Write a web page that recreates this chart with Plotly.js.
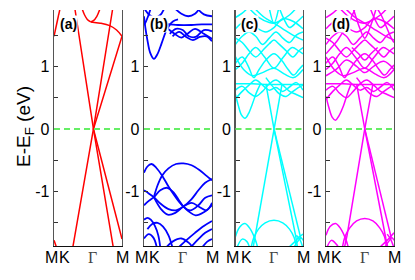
<!DOCTYPE html>
<html>
<head>
<meta charset="utf-8">
<script src="https://cdn.plot.ly/plotly-3.0.1.min.js"></script>
<style>html,body{margin:0;padding:0;background:#fff;}#chart{width:415px;height:280px;}</style>
</head>
<body>
<div id="chart"></div>
<script>
// ---------- data ----------
const panelLabels = ['(a)', '(b)', '(c)', '(d)'];
const panelColors = ['#ff0000', '#0000ff', '#00ffff', '#ff00ff'];
const kLabels = ['M', 'K', 'Γ', 'M'];
const kPos = [-0.04, 0.16, 0.57, 1.01];
const yTicks = [-1, 0, 1];
const yMinorTicks = [-1.5, -0.5, 0.5, 1.5];
const fermiLevel = 0;

// straight band segments [k, E]
const linesA = [
  [[0.31, 1.9], [0.58, 0], [0.87, -1.88]],
  [[0.86, 1.9], [0.58, 0], [0.275, -1.9]],
  [[1.0, 1.48], [0.58, 0], [1.0, -1.76]]
];
const curvesA = [
  [[0.41, 1.93], [0.45, 1.82], [0.49, 1.75], [0.54, 1.71]],
  [[0.68, 1.93], [0.63, 1.8], [0.58, 1.73], [0.54, 1.71]],
  [[0.54, 1.71], [0.68, 1.69], [0.82, 1.65], [0.92, 1.58], [1.0, 1.48]],
  [[0, 1.48], [0.04, 1.68], [0.09, 1.93]],
  [[0, -1.78], [0.02, -1.84], [0.04, -1.9]]
];

const linesB = [];
const curvesB = [
  [[0.0, 1.8], [0.02, 1.62], [0.05, 1.42], [0.09, 1.22], [0.145, 1.12], [0.2, 1.2], [0.26, 1.37], [0.32, 1.55], [0.37, 1.65], [0.43, 1.72], [0.5, 1.75]],
  [[0.33, 1.68], [0.5, 1.66], [0.7, 1.66], [0.85, 1.67], [1.0, 1.67]],
  [[0.35, 1.6], [0.45, 1.52], [0.55, 1.46], [0.65, 1.53], [0.75, 1.6], [0.88, 1.52], [1.0, 1.44]],
  [[0.38, 1.52], [0.47, 1.6], [0.57, 1.58], [0.66, 1.48], [0.76, 1.47], [0.88, 1.58], [1.0, 1.56]],
  [[0.42, 1.48], [0.52, 1.55], [0.62, 1.47], [0.72, 1.42], [0.82, 1.47], [0.92, 1.48], [1.0, 1.4]],
  [[0.0, 1.93], [0.08, 1.82], [0.16, 1.78], [0.24, 1.82], [0.3, 1.93]],
  [[0.45, 1.93], [0.55, 1.84], [0.65, 1.8], [0.75, 1.84], [0.82, 1.93]],
  [[0.78, 1.93], [0.88, 1.83], [1.0, 1.8]],
  [[0.0, 1.66], [0.03, 1.72], [0.06, 1.8], [0.1, 1.93]],
  [[0.0, -0.7], [0.05, -0.6], [0.11, -0.56], [0.18, -0.62], [0.28, -0.77], [0.36, -0.92], [0.44, -1.05], [0.52, -1.17], [0.58, -1.24], [0.66, -1.32], [0.76, -1.38], [0.88, -1.33], [1.0, -1.22]],
  [[0.145, -1.09], [0.2, -0.9], [0.27, -0.74], [0.36, -0.63], [0.47, -0.56], [0.58, -0.55], [0.7, -0.58], [0.82, -0.66], [0.92, -0.75], [1.0, -0.82]],
  [[0.0, -0.98], [0.07, -1.03], [0.145, -1.09], [0.25, -1.2], [0.36, -1.28], [0.47, -1.3], [0.58, -1.24], [0.7, -1.12], [0.8, -0.98], [0.9, -0.86], [1.0, -0.8]],
  [[0.0, -1.22], [0.07, -1.15], [0.145, -1.09], [0.24, -0.98], [0.34, -0.94], [0.44, -1.02], [0.52, -1.15], [0.58, -1.24], [0.68, -1.3], [0.8, -1.22], [0.9, -1.1], [1.0, -1.06]],
  [[0.145, -1.09], [0.25, -1.28], [0.35, -1.37], [0.46, -1.34], [0.58, -1.24], [0.7, -1.18], [0.82, -1.25], [0.92, -1.3], [1.0, -1.18]],
  [[0.0, -1.45], [0.05, -1.42], [0.1, -1.45], [0.16, -1.55], [0.21, -1.7], [0.24, -1.9]],
  [[0.05, -1.6], [0.12, -1.52], [0.2, -1.5], [0.28, -1.56], [0.36, -1.7], [0.42, -1.9]],
  [[0.0, -1.75], [0.07, -1.68], [0.14, -1.74], [0.19, -1.9]],
  [[0.5, -1.9], [0.62, -1.78], [0.75, -1.66], [0.88, -1.55], [1.0, -1.47]],
  [[0.68, -1.9], [0.8, -1.76], [0.9, -1.66], [1.0, -1.6]],
  [[0.32, -1.9], [0.42, -1.8], [0.55, -1.75], [0.66, -1.82], [0.72, -1.9]],
  [[0.85, -1.9], [0.93, -1.8], [1.0, -1.76]]
];

const linesC = [
  [[0.45, 0.72], [0.57, 0], [0.89, -1.7], [0.92, -1.9]],
  [[0.69, 0.72], [0.57, 0], [0.29, -1.7], [0.26, -1.9]],
  [[0.57, 0], [0.97, -1.76]]
];
const curvesC = [
  [[0.23, -1.9], [0.27, -1.74], [0.34, -1.6], [0.44, -1.5], [0.57, -1.46], [0.7, -1.5], [0.8, -1.6], [0.87, -1.74], [0.9, -1.9]],
  [[0, -1.72], [0.06, -1.57], [0.14, -1.51], [0.22, -1.6], [0.29, -1.76], [0.33, -1.9]],
  [[0.02, -1.9], [0.1, -1.76], [0.17, -1.8], [0.21, -1.9]],
  [[0.78, -1.9], [0.88, -1.8], [0.95, -1.72], [1.0, -1.68]],
  [[0.86, -1.9], [0.92, -1.8], [0.97, -1.74], [1.0, -1.78]],
  [[0.9, -1.7], [0.95, -1.76], [1.0, -1.9]],
  [[0, 0.55], [0.04, 0.38], [0.09, 0.22], [0.14, 0.17], [0.19, 0.24], [0.25, 0.4], [0.31, 0.58], [0.37, 0.72]],
  [[0, 0.72], [0.25, 0.72], [0.5, 0.71], [0.75, 0.71], [1.0, 0.71]],
  [[0, 0.62], [0.1, 0.68], [0.2, 0.58], [0.3, 0.52], [0.4, 0.6], [0.5, 0.72], [0.6, 0.78], [0.7, 0.7], [0.8, 0.6], [0.9, 0.55], [1.0, 0.5]],
  [[0, 0.48], [0.1, 0.6], [0.2, 0.7], [0.3, 0.78], [0.4, 0.7], [0.5, 0.62], [0.6, 0.66], [0.7, 0.6], [0.8, 0.67], [0.9, 0.74], [1.0, 0.62]],
  [[0.45, 0.82], [0.55, 0.68], [0.65, 0.56], [0.75, 0.52], [0.85, 0.6], [0.93, 0.66], [1.0, 0.7]],
  [[0, 0.95], [0.1, 1.05], [0.2, 1.2], [0.3, 1.3], [0.43, 1.15], [0.57, 0.97], [0.71, 1.15], [0.84, 1.3], [0.93, 1.25], [1.0, 1.2]],
  [[0, 1.15], [0.12, 0.95], [0.25, 0.85], [0.4, 0.9], [0.57, 0.97], [0.72, 0.88], [0.86, 0.82], [1.0, 0.95]],
  [[0, 1.05], [0.1, 1.15], [0.19, 1.0], [0.27, 0.82], [0.35, 0.95], [0.45, 1.1], [0.57, 1.2], [0.68, 1.1], [0.78, 0.95], [0.86, 0.86], [0.94, 0.95], [1.0, 1.02]],
  [[0, 1.45], [0.1, 1.38], [0.2, 1.25], [0.3, 1.15], [0.4, 1.25], [0.5, 1.36], [0.57, 1.42], [0.65, 1.35], [0.75, 1.25], [0.85, 1.15], [0.94, 1.25], [1.0, 1.3]],
  [[0.2, 1.93], [0.35, 1.78], [0.5, 1.7], [0.57, 1.69], [0.65, 1.72], [0.8, 1.82], [0.9, 1.93]],
  [[0.28, 1.93], [0.43, 1.78], [0.57, 1.69], [0.7, 1.6], [0.85, 1.5], [1.0, 1.42]],
  [[0, 1.6], [0.15, 1.72], [0.3, 1.62], [0.45, 1.55], [0.57, 1.62], [0.7, 1.76], [0.85, 1.72], [1.0, 1.6]],
  [[0, 1.78], [0.1, 1.85], [0.18, 1.93]],
  [[0.5, 1.93], [0.57, 1.69], [0.64, 1.93]],
  [[0, 1.35], [0.1, 1.48], [0.2, 1.55], [0.3, 1.48], [0.4, 1.35], [0.5, 1.45], [0.6, 1.55], [0.7, 1.45], [0.8, 1.38], [0.9, 1.5], [1.0, 1.55]],
  [[0.65, 1.93], [0.72, 1.75], [0.8, 1.62], [0.9, 1.7], [1.0, 1.8]]
];

const linesD = [
  [[0.45, 0.72], [0.57, 0], [0.88, -1.75], [0.91, -1.9]],
  [[0.69, 0.72], [0.57, 0], [0.31, -1.7], [0.27, -1.9]],
  [[0.57, 0], [0.96, -1.74]]
];
const curvesD = [
  [[0.24, -1.9], [0.28, -1.72], [0.35, -1.58], [0.45, -1.47], [0.57, -1.43], [0.69, -1.47], [0.79, -1.58], [0.86, -1.72], [0.89, -1.9]],
  [[0, -1.7], [0.06, -1.56], [0.14, -1.51], [0.22, -1.6], [0.29, -1.76], [0.33, -1.9]],
  [[0.01, -1.9], [0.08, -1.78], [0.15, -1.84], [0.19, -1.9]],
  [[0.78, -1.9], [0.88, -1.8], [0.95, -1.72], [1.0, -1.66]],
  [[0.86, -1.9], [0.92, -1.8], [0.97, -1.74], [1.0, -1.78]],
  [[0.9, -1.68], [0.95, -1.76], [1.0, -1.9]],
  [[0, 0.52], [0.04, 0.35], [0.09, 0.19], [0.14, 0.14], [0.19, 0.21], [0.26, 0.38], [0.32, 0.58], [0.37, 0.72]],
  [[0, 0.72], [0.25, 0.72], [0.5, 0.71], [0.75, 0.71], [1.0, 0.71]],
  [[0, 0.62], [0.1, 0.68], [0.2, 0.57], [0.3, 0.5], [0.4, 0.6], [0.5, 0.72], [0.6, 0.78], [0.7, 0.7], [0.8, 0.6], [0.9, 0.55], [1.0, 0.5]],
  [[0, 0.47], [0.1, 0.6], [0.2, 0.7], [0.3, 0.78], [0.4, 0.7], [0.5, 0.62], [0.6, 0.66], [0.7, 0.6], [0.8, 0.67], [0.9, 0.74], [1.0, 0.62]],
  [[0.45, 0.82], [0.55, 0.68], [0.65, 0.56], [0.75, 0.52], [0.85, 0.6], [0.93, 0.66], [1.0, 0.7]],
  [[0, 0.95], [0.1, 1.05], [0.2, 1.2], [0.3, 1.3], [0.43, 1.15], [0.57, 0.97], [0.71, 1.15], [0.84, 1.3], [0.93, 1.25], [1.0, 1.2]],
  [[0, 1.15], [0.12, 0.95], [0.25, 0.85], [0.4, 0.9], [0.57, 0.97], [0.72, 0.88], [0.86, 0.82], [1.0, 0.95]],
  [[0, 1.05], [0.1, 1.15], [0.19, 1.0], [0.27, 0.82], [0.35, 0.95], [0.45, 1.1], [0.57, 1.2], [0.68, 1.1], [0.78, 0.95], [0.86, 0.86], [0.94, 0.95], [1.0, 1.02]],
  [[0, 0.85], [0.15, 0.95], [0.3, 1.1], [0.45, 1.0], [0.57, 0.9], [0.7, 1.0], [0.85, 1.08], [1.0, 0.95]],
  [[0, 1.45], [0.1, 1.38], [0.2, 1.25], [0.3, 1.15], [0.4, 1.25], [0.5, 1.36], [0.57, 1.42], [0.65, 1.35], [0.75, 1.25], [0.85, 1.15], [0.94, 1.25], [1.0, 1.3]],
  [[0.38, 1.3], [0.48, 1.2], [0.57, 1.1], [0.66, 1.2], [0.76, 1.3]],
  [[0.4, 1.93], [0.5, 1.6], [0.57, 1.45], [0.64, 1.6], [0.74, 1.93]],
  [[0.2, 1.93], [0.35, 1.78], [0.5, 1.7], [0.57, 1.69], [0.65, 1.72], [0.8, 1.82], [0.9, 1.93]],
  [[0.28, 1.93], [0.43, 1.78], [0.57, 1.69], [0.7, 1.6], [0.85, 1.5], [1.0, 1.42]],
  [[0, 1.6], [0.15, 1.72], [0.3, 1.62], [0.45, 1.55], [0.57, 1.62], [0.7, 1.76], [0.85, 1.72], [1.0, 1.6]],
  [[0, 1.78], [0.1, 1.85], [0.18, 1.93]],
  [[0, 1.35], [0.1, 1.48], [0.2, 1.55], [0.3, 1.48], [0.4, 1.35], [0.5, 1.45], [0.6, 1.55], [0.7, 1.45], [0.8, 1.38], [0.9, 1.5], [1.0, 1.55]],
  [[0.65, 1.93], [0.72, 1.75], [0.8, 1.62], [0.9, 1.7], [1.0, 1.8]],
  [[0, 1.2], [0.08, 1.3], [0.16, 1.4], [0.25, 1.55], [0.33, 1.7], [0.4, 1.85], [0.43, 1.93]],
  [[0.75, 1.93], [0.82, 1.8], [0.9, 1.6], [0.96, 1.45], [1.0, 1.38]]
];

const panelLines = [linesA, linesB, linesC, linesD];
const panelCurves = [curvesA, curvesB, curvesC, curvesD];
const panelWidths = [1.5, 1.8, 1.5, 1.5];

// ---------- layout geometry ----------
const W = 415, H = 280;
const xDomains = [[54, 122], [144, 212], [235.5, 303], [326, 394]];
const yDomainPx = [10, 246];
const yRange = [-1.87, 1.9];

const traces = [];
const layout = {
  width: W, height: H,
  margin: {l: 0, r: 0, t: 0, b: 0},
  paper_bgcolor: '#fff', plot_bgcolor: '#fff',
  showlegend: false,
  font: {family: 'Liberation Sans, Arial, sans-serif', size: 16, color: '#000'},
  shapes: [], annotations: []
};

const yDom = [(H - yDomainPx[1]) / H, (H - yDomainPx[0]) / H];

for (let p = 0; p < 4; p++) {
  const sfx = p === 0 ? '' : String(p + 1);
  const xa = 'x' + sfx, ya = 'y' + sfx;
  const addSeg = (pts, shape) => {
    traces.push({
      type: 'scatter', mode: 'lines',
      x: pts.map(q => q[0]), y: pts.map(q => q[1]),
      xaxis: xa, yaxis: ya, hoverinfo: 'skip',
      line: {color: panelColors[p], width: panelWidths[p], shape: shape, smoothing: 1}
    });
  };
  panelLines[p].forEach(s => addSeg(s, 'linear'));
  panelCurves[p].forEach(s => addSeg(s, 'spline'));

  layout['xaxis' + sfx] = {
    domain: [xDomains[p][0] / W, xDomains[p][1] / W],
    range: [0, 1], anchor: ya,
    showline: true, linecolor: '#111', linewidth: 1.3, mirror: false,
    showgrid: false, zeroline: false, ticks: '', showticklabels: false, fixedrange: true
  };
  layout['yaxis' + sfx] = {
    domain: yDom, range: yRange, anchor: xa,
    showline: true, linecolor: '#555', linewidth: 1.3, mirror: true,
    showgrid: false, zeroline: false,
    tickmode: 'array', tickvals: yTicks, ticktext: yTicks.map(v => v < 0 ? '-' + Math.abs(v) : String(v)),
    ticks: 'inside', ticklen: 4, tickwidth: 1, tickcolor: '#333',
    minor: {tickvals: yMinorTicks, ticks: 'inside', ticklen: 4, tickwidth: 1, tickcolor: '#333'},
    tickfont: {size: 16, family: 'Liberation Sans, Arial, sans-serif', color: '#000'},
    fixedrange: true
  };

  layout.shapes.push({
    type: 'line', xref: xa + ' domain', x0: 0, x1: 1, yref: ya, y0: fermiLevel, y1: fermiLevel,
    line: {color: '#66ee66', width: 2, dash: '6px,4px'}, layer: 'above'
  });

  layout.annotations.push({
    xref: xa + ' domain', yref: 'paper', x: 0.07, y: (H - 23.5) / H,
    xanchor: 'left', yanchor: 'middle', showarrow: false,
    text: '<b>' + panelLabels[p] + '</b>', bgcolor: '#fff', borderpad: 0,
    font: {size: 14, family: 'Liberation Sans, Arial, sans-serif', color: '#000'}
  });

  // k-point labels: axis range is [0, 1], so domain fraction equals k position
  kLabels.forEach((lab, i) => {
    const isGamma = lab === 'Γ';
    layout.annotations.push({
      xref: xa + ' domain', yref: 'paper', x: kPos[i], y: (H - 257) / H,
      xanchor: 'center', yanchor: 'middle', showarrow: false, text: lab,
      font: isGamma ? {size: 16, family: 'Liberation Serif, Times New Roman, serif', color: '#444'}
                    : {size: 16, family: 'Liberation Sans, Arial, sans-serif', color: '#000'}
    });
  });
}

layout.annotations.push({
  xref: 'paper', yref: 'paper', x: 25 / W, y: (H - 127) / H,
  xanchor: 'center', yanchor: 'middle', showarrow: false, textangle: -90,
  text: 'E-E<sub>F</sub> (eV)',
  font: {size: 19, family: 'Liberation Sans, Arial, sans-serif', color: '#000'}
});

Plotly.newPlot('chart', traces, layout, {staticPlot: true, displayModeBar: false});
</script>
</body>
</html>
